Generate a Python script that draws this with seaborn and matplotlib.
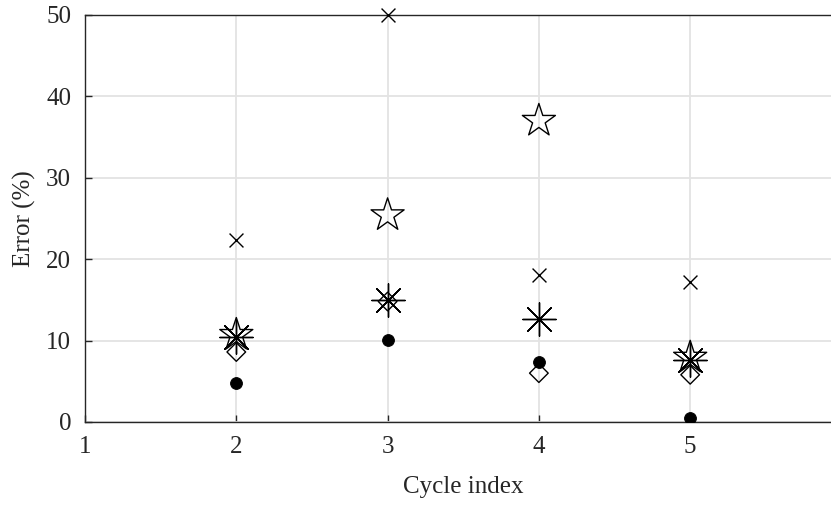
import pandas as pd
import numpy as np
import seaborn as sns
import matplotlib.pyplot as plt

cycles = [2, 3, 4, 5]
err_cross = [22.4, 50.0, 18.0, 17.2]
err_star = [10.7, 25.4, 37.0, 7.9]
err_aster = [10.4, 15.0, 12.7, 7.6]
err_diamond = [8.6, 14.8, 6.0, 5.8]
err_dot = [4.8, 10.1, 7.4, 0.5]

sns.set_style("whitegrid")
plt.rcParams['font.family'] = ['Liberation Serif', 'DejaVu Serif']

fig = plt.figure(figsize=(8.31, 5.05), dpi=100)
ax = fig.add_axes([0.1023, 0.1644, 0.9103, 0.8059])

# open markers drawn as lines / unfilled
sns.scatterplot(x=cycles, y=err_cross, marker="x", s=100, color="black",
                linewidth=1.0, ax=ax, clip_on=False, zorder=3)
sns.scatterplot(x=cycles, y=err_star, marker="*", s=25**2, facecolor="none",
                edgecolor="black", linewidth=1.0, ax=ax, zorder=3)
sns.scatterplot(x=cycles, y=err_aster, marker=(8, 2, 0), s=24**2, color="black",
                linewidth=1.0, ax=ax, zorder=3)
sns.scatterplot(x=cycles, y=err_diamond, marker="D", s=9.5**2, facecolor="none",
                edgecolor="black", linewidth=1.0, ax=ax, zorder=3)
sns.scatterplot(x=cycles, y=err_dot, marker="o", s=8.5**2, color="black",
                edgecolor="black", ax=ax, zorder=3)

ax.set_xlim(1, 6)
ax.set_ylim(0, 50)
ax.set_xticks([1, 2, 3, 4, 5])
ax.set_yticks([0, 10, 20, 30, 40, 50])
ax.grid(True, color="#e3e3e3", linewidth=1.3)
for s in ax.spines.values():
    s.set_color("#262626")
    s.set_linewidth(1.0)
ax.spines['right'].set_visible(False)
ax.tick_params(direction="in", length=5, width=1.0, colors="#262626",
               labelsize=18, labelcolor="#262626", left=True, bottom=True)
ax.tick_params(axis="x", pad=10)
ax.tick_params(axis="y", pad=10)
ax.set_xlabel("Cycle index", fontsize=18, color="#262626", labelpad=13)
ax.set_ylabel("Error (%)", fontsize=18, color="#262626", labelpad=7)

fig.savefig("out.png", dpi=100)
